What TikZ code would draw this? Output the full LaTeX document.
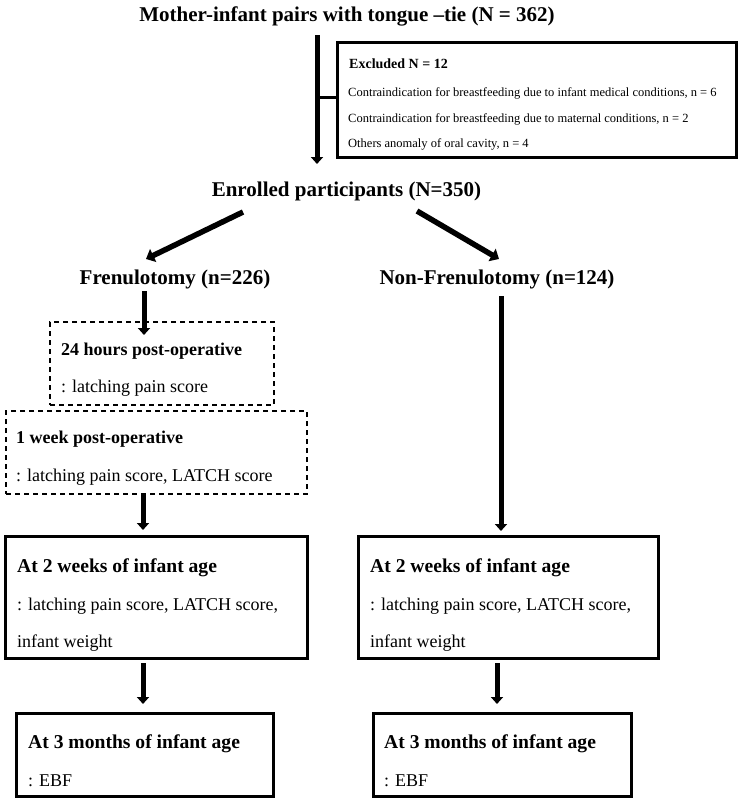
\documentclass[tikz,border=0pt]{standalone}
\usepackage{fontspec}
\setmainfont{Liberation Serif}
\usetikzlibrary{arrows.meta}
\begin{document}
\begin{tikzpicture}[x=1pt,y=-1pt,
  big/.style={font=\fontsize{21}{25}\selectfont\bfseries, inner sep=0pt, anchor=base},
  head/.style={font=\fontsize{18}{22}\selectfont\bfseries, inner sep=0pt, anchor=base west},
  bighead/.style={font=\fontsize{19.6}{23}\selectfont\bfseries, inner sep=0pt, anchor=base west},
  body/.style={font=\fontsize{18}{22}\selectfont, inner sep=0pt, anchor=base west},
  exhead/.style={font=\fontsize{14}{17}\selectfont\bfseries, inner sep=0pt, anchor=base west},
  exbody/.style={font=\fontsize{12.5}{15}\selectfont, inner sep=0pt, anchor=base west},
  solidbox/.style={draw, line width=3pt, inner sep=0pt},
  dashbox/.style={draw, line width=1.2pt, dash pattern=on 5pt off 4pt, inner sep=0pt},
  arr/.style={line width=5pt, -{Triangle[width=12pt,length=7pt]}},
  darr/.style={line width=5.5pt, -{Triangle[width=14pt,length=8pt]}}
]
\useasboundingbox (0,0) rectangle (742,804);
\fill[white] (0,0) rectangle (742,804);

% boxes
\node[solidbox, minimum width=399pt, minimum height=115pt] (excl) at (536.5,99.5) {};
\node[dashbox, minimum width=224pt, minimum height=83pt] (dash1) at (162,363.5) {};
\node[dashbox, minimum width=301pt, minimum height=83pt] (dash2) at (156.5,452.5) {};
\node[solidbox, minimum width=302pt, minimum height=122pt] (lwk) at (156,597) {};
\node[solidbox, minimum width=300pt, minimum height=122pt] (rwk) at (508,597) {};
\node[solidbox, minimum width=257pt, minimum height=83pt] (lmo) at (144.5,754.5) {};
\node[solidbox, minimum width=258pt, minimum height=83pt] (rmo) at (502,754.5) {};

% headline texts
\node[big] (title) at (347,21) {Mother-infant pairs with tongue –tie (N = 362)};
\node[big] (enrol) at (346.5,196) {Enrolled participants (N=350)};
\node[big] (fren) at (175,284) {Frenulotomy (n=226)};
\node[big] (nfren) at (497,284) {Non-Frenulotomy (n=124)};

% excluded texts
\node[exhead] (ex0) at (349,68) {Excluded N = 12};
\node[exbody] (ex1) at (348,96) {Contraindication for breastfeeding due to infant medical conditions, n = 6};
\node[exbody] (ex2) at (348,122) {Contraindication for breastfeeding due to maternal conditions, n = 2};
\node[exbody] (ex3) at (348,147) {Others anomaly of oral cavity, n = 4};

% box texts
\node[head] (d1h) at (61,355) {24 hours post-operative};
\node[body] (d1b) at (61,392) {: latching pain score};
\node[head] (d2h) at (16,443) {1 week post-operative};
\node[body] (d2b) at (16,481) {: latching pain score, LATCH score};
\node[bighead] (lwh) at (17,572) {At 2 weeks of infant age};
\node[body] (lwb) at (17,610) {: latching pain score, LATCH score,};
\node[body] (lwc) at (17,647) {infant weight};
\node[bighead] (rwh) at (370,572) {At 2 weeks of infant age};
\node[body] (rwb) at (370,610) {: latching pain score, LATCH score,};
\node[body] (rwc) at (370,647) {infant weight};
\node[bighead] (lmh) at (28,748) {At 3 months of infant age};
\node[body] (lmb) at (28,786) {: EBF};
\node[bighead] (rmh) at (384,748) {At 3 months of infant age};
\node[body] (rmb) at (384,786) {: EBF};

% connector end points
\coordinate (a0s) at (317,35);
\coordinate (a0e) at (317,164);
\coordinate (tk) at (317,97);
\coordinate (dls) at (243,212);
\coordinate (dle) at (146,259);
\coordinate (drs) at (417,211);
\coordinate (dre) at (499,259);
\coordinate (a1s) at (144,291);
\coordinate (a1e) at (144,335);
\coordinate (a2s) at (143,494);
\coordinate (a2e) at (143,530);
\coordinate (a3s) at (501,296);
\coordinate (a3e) at (501,531);
\coordinate (a4s) at (143,663);
\coordinate (a4e) at (143,704);
\coordinate (a5s) at (497,663);
\coordinate (a5e) at (497,704);

% connectors
\draw[arr] (a0s) -- (a0e);
\draw[line width=3pt] (tk) -- (tk -| excl.west);
\draw[darr] (dls) -- (dle);
\draw[darr] (drs) -- (dre);
\draw[arr] (a1s) -- (a1e);
\draw[arr] (a2s) -- (a2e);
\draw[arr] (a3s) -- (a3e);
\draw[arr] (a4s) -- (a4e);
\draw[arr] (a5s) -- (a5e);
\end{tikzpicture}
\end{document}
